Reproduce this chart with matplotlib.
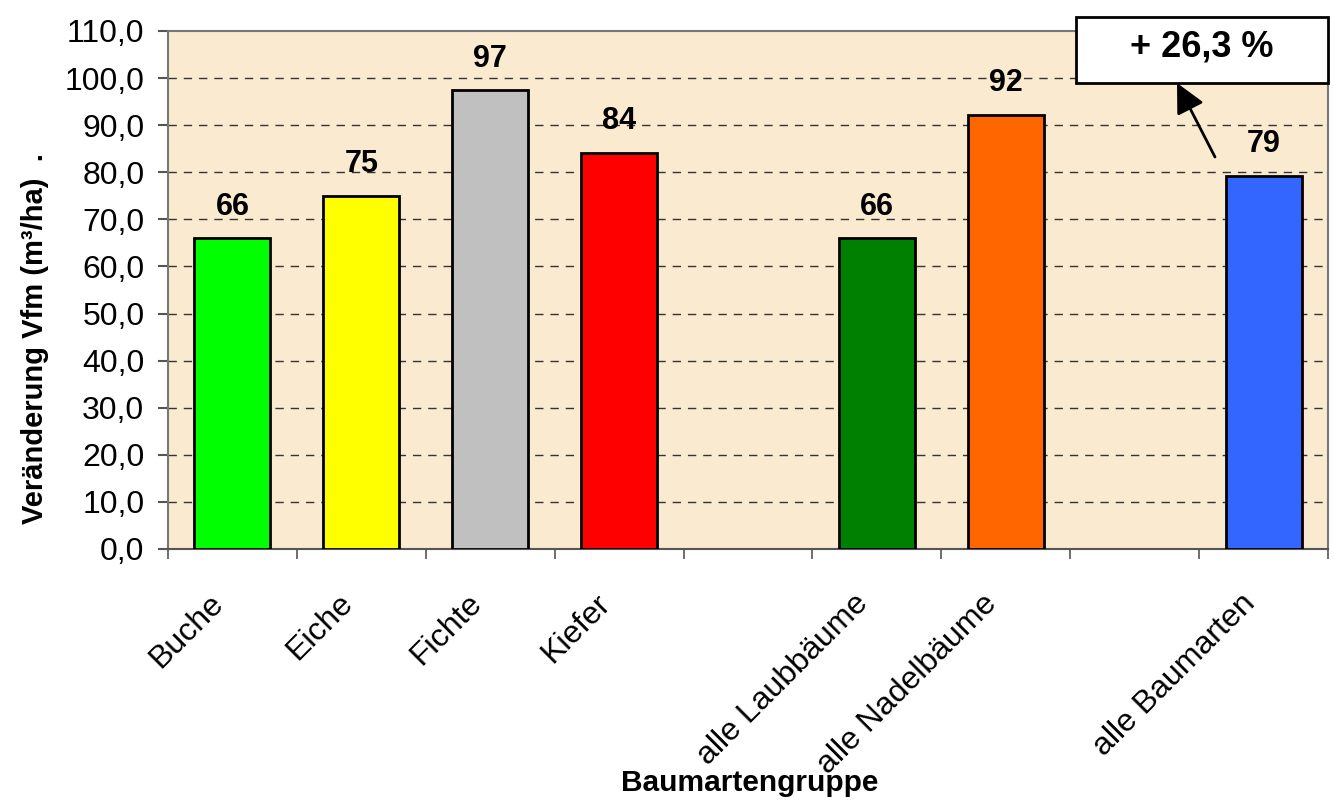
import numpy as np
import matplotlib
matplotlib.use("Agg")
import matplotlib.pyplot as plt
from matplotlib.patches import Rectangle
from matplotlib.transforms import ScaledTranslation

plt.rcParams['font.family'] = ['Liberation Sans', 'DejaVu Sans']

# Daten
kategorien = ["Buche", "Eiche", "Fichte", "Kiefer", "",
              "alle Laubbäume", "alle Nadelbäume", "", "alle Baumarten"]
werte = [66.0, 75.0, 97.4, 84.1, None, 66.0, 92.2, None, 79.2]
farben = ["#00FF00", "#FFFF00", "#C0C0C0", "#FF0000", None,
          "#008000", "#FF6600", None, "#3366FF"]
y_ticks = np.arange(0, 111, 10)

fig = plt.figure(figsize=(13.34, 8.10), dpi=100)
ax = fig.add_axes([168/1334, 1-549/810, 1160/1334, 518/810])
ax.set_facecolor("#F9EAD0")

x = np.arange(len(kategorien))
for i, (w, c) in enumerate(zip(werte, farben)):
    if w is None:
        continue
    ax.bar(x[i], w, width=0.59, color=c, edgecolor="black", linewidth=2, zorder=3)
    ax.annotate(f"{w:.0f}", (x[i], w), xytext=(0, 12), textcoords="offset points",
                ha="center", va="bottom", fontsize=22, fontweight="bold", zorder=4)

ax.set_xlim(-0.5, len(kategorien) - 0.5)
ax.set_ylim(0, 110)
ax.set_yticks(y_ticks)
ax.set_yticklabels([f"{v:.1f}".replace(".", ",") for v in y_ticks], fontsize=23)
for v in y_ticks[1:-1]:
    ax.axhline(v, color="#333333", linestyle=(0, (6, 5)), linewidth=1, zorder=1)

ax.set_xticks(x)
ax.set_xticklabels(kategorien, rotation=45, ha="right", va="center",
                   rotation_mode="anchor", fontsize=23)
ax.tick_params(axis="x", length=0, pad=36)
verschiebung = ScaledTranslation(-13/100, 0, fig.dpi_scale_trans)
for lab in ax.get_xticklabels():
    lab.set_transform(lab.get_transform() + verschiebung)
ax.set_xticks(np.arange(-0.5, len(kategorien), 1), minor=True)
ax.tick_params(axis="x", which="minor", length=7, width=1.2, color="#555555")
ax.tick_params(axis="y", length=7, width=1.5, color="#555555", pad=10)

for s in ["top", "left", "right", "bottom"]:
    ax.spines[s].set_color("#777777")
    ax.spines[s].set_linewidth(1.5)
ax.spines["bottom"].set_color("#555555")

fig.text(35/1334, 1-338/810, "Veränderung Vfm (m³/ha)  .", rotation=90,
         ha="center", va="center", fontsize=21, fontweight="bold")
fig.text(750/1334, 1-783/810, "Baumartengruppe", ha="center", va="center",
         fontsize=21.5, fontweight="bold")

# Hinweis-Kasten mit Pfeil
fig.patches.append(Rectangle((1076/1334, 1-83/810), 252/1334, 66/810,
                             transform=fig.transFigure, facecolor="white",
                             edgecolor="black", linewidth=2, zorder=5))
fig.text(1202/1334, 1-47/810, "+ 26,3 %", ha="center", va="center",
         fontsize=26, fontweight="bold", zorder=6)
ax.annotate("", xy=(1177/1334, 1-83/810), xycoords="figure fraction",
            xytext=(1215/1334, 1-157/810), textcoords="figure fraction",
            arrowprops=dict(arrowstyle="-|>,head_length=0.9,head_width=0.45",
                            mutation_scale=20, color="black", lw=2,
                            shrinkA=0, shrinkB=0))

fig.savefig("out.png", dpi=100)
